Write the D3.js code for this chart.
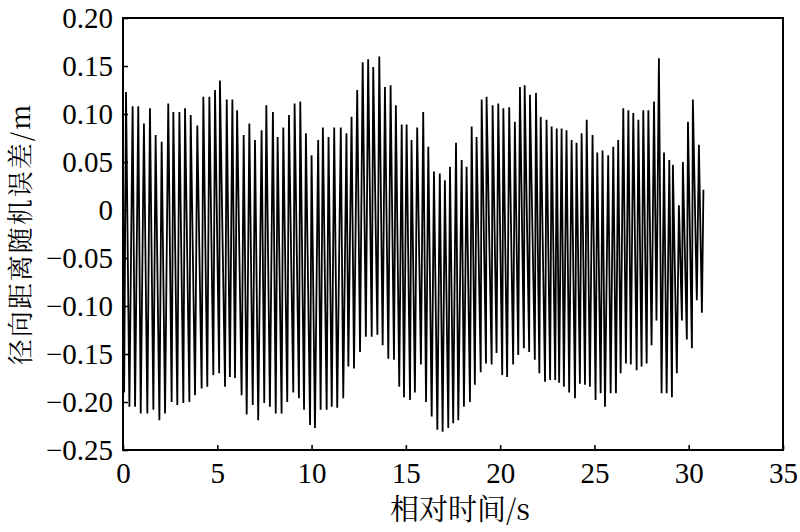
<!DOCTYPE html>
<html><head><meta charset="utf-8">
<script src="https://cdn.jsdelivr.net/npm/d3@7"></script>
<style>body{margin:0;background:#fff}</style>
</head><body><svg id="c" width="800" height="532"></svg>
<script>
const xTicks = [0, 5, 10, 15, 20, 25, 30, 35];
const yTicks = [-0.25, -0.20, -0.15, -0.10, -0.05, 0, 0.05, 0.10, 0.15, 0.20];
const xTitle = "相对时间/s";
const yTitle = "径向距离随机误差/m";

const startTime = [0.0];
const startValue = [0.06];

const peakTimes = [0.16,0.51,0.81,1.11,1.43,1.73,2.05,2.40,2.67,2.99,3.29,3.59,3.94,4.26,4.58,4.88,5.14,5.50,5.80,6.05,6.40,6.70,7.00,7.35,7.60,7.95,8.20,8.50,8.80,9.10,9.40,9.70,10.00,10.35,10.60,10.90,11.20,11.55,11.85,12.12,12.42,12.71,13.00,13.27,13.59,13.89,14.19,14.47,14.78,15.04,15.30,15.60,15.92,16.19,16.49,16.80,17.07,17.34,17.66,17.96,18.22,18.49,18.75,19.02,19.28,19.60,19.90,20.17,20.48,20.78,21.05,21.30,21.58,21.90,22.15,22.46,22.73,23.00,23.26,23.52,23.79,24.05,24.32,24.59,24.90,25.15,25.43,25.73,26.00,26.26,26.53,26.80,27.06,27.33,27.59,27.86,28.16,28.42,28.69,28.97,29.16,29.48,29.69,29.96,30.22,30.54,30.78];
const peakValues = [0.123,0.108,0.108,0.090,0.106,0.078,0.071,0.111,0.102,0.102,0.106,0.099,0.088,0.118,0.118,0.125,0.135,0.115,0.115,0.104,0.078,0.090,0.073,0.083,0.109,0.102,0.076,0.086,0.099,0.111,0.113,0.080,0.057,0.073,0.086,0.076,0.086,0.086,0.080,0.097,0.125,0.154,0.157,0.149,0.160,0.128,0.130,0.109,0.089,0.089,0.073,0.086,0.102,0.066,0.040,0.038,0.031,0.045,0.070,0.052,0.045,0.087,0.076,0.115,0.118,0.109,0.111,0.106,0.107,0.092,0.128,0.130,0.120,0.122,0.097,0.094,0.087,0.085,0.085,0.083,0.073,0.070,0.080,0.094,0.078,0.060,0.062,0.057,0.066,0.073,0.106,0.104,0.101,0.094,0.104,0.104,0.113,0.158,0.060,0.052,0.047,0.005,0.050,0.092,0.115,0.068,0.021];

const troughTimes = [0.06,0.34,0.64,0.94,1.29,1.61,1.93,2.23,2.58,2.88,3.20,3.52,3.82,4.17,4.47,4.79,5.10,5.41,5.67,5.94,6.29,6.56,6.88,7.17,7.49,7.79,8.10,8.41,8.71,9.03,9.33,9.60,9.92,10.18,10.48,10.80,11.07,11.36,11.68,11.95,12.25,12.57,12.88,13.19,13.49,13.77,14.07,14.37,14.65,14.90,15.22,15.48,15.80,16.07,16.37,16.67,16.95,17.25,17.51,17.78,18.08,18.40,18.66,18.97,19.25,19.55,19.81,20.11,20.37,20.69,20.96,21.26,21.54,21.84,22.08,22.38,22.65,22.92,23.13,23.38,23.66,23.97,24.23,24.50,24.76,25.06,25.33,25.56,25.86,26.14,26.39,26.67,26.93,27.24,27.50,27.77,28.03,28.29,28.56,28.83,29.11,29.37,29.64,29.90,30.17,30.43,30.70];
const troughValues = [-0.190,-0.205,-0.205,-0.212,-0.212,-0.208,-0.219,-0.212,-0.200,-0.203,-0.201,-0.200,-0.193,-0.186,-0.184,-0.172,-0.170,-0.184,-0.174,-0.175,-0.193,-0.213,-0.203,-0.219,-0.201,-0.205,-0.212,-0.212,-0.200,-0.190,-0.196,-0.208,-0.224,-0.227,-0.208,-0.208,-0.205,-0.206,-0.196,-0.163,-0.165,-0.148,-0.132,-0.132,-0.130,-0.141,-0.155,-0.156,-0.184,-0.195,-0.198,-0.190,-0.161,-0.200,-0.215,-0.229,-0.231,-0.227,-0.222,-0.219,-0.205,-0.200,-0.182,-0.169,-0.160,-0.161,-0.149,-0.172,-0.174,-0.161,-0.151,-0.144,-0.148,-0.156,-0.170,-0.179,-0.177,-0.177,-0.180,-0.184,-0.190,-0.196,-0.181,-0.182,-0.184,-0.198,-0.191,-0.205,-0.191,-0.191,-0.170,-0.160,-0.161,-0.167,-0.163,-0.160,-0.141,-0.115,-0.191,-0.191,-0.195,-0.170,-0.115,-0.135,-0.144,-0.094,-0.107];

const numFont = "serif";
const titleFont = "'Noto Serif CJK SC', serif";
const svg = d3.select("#c");
const x = d3.scaleLinear().domain([0, 35]).range([123, 783]);
const y = d3.scaleLinear().domain([-0.25, 0.20]).range([450, 18]);

const pts = [];
startTime.forEach((t, i) => pts.push({t, v: startValue[i]}));
peakTimes.forEach((t, i) => pts.push({t, v: peakValues[i]}));
troughTimes.forEach((t, i) => pts.push({t, v: troughValues[i]}));
pts.sort((a, b) => a.t - b.t);

svg.append("path")
  .datum(pts)
  .attr("fill", "none")
  .attr("stroke", "#000")
  .attr("stroke-width", 1.8)
  .attr("stroke-linejoin", "miter")
  .attr("d", d3.line().x(d => x(d.t)).y(d => y(d.v)));

const fmtY = v => v === 0 ? "0" : d3.format(".2f")(v).replace("-", "\u2212");

const xAxis = svg.append("g").attr("transform", "translate(0,450)")
  .call(d3.axisBottom(x).tickValues(xTicks).tickSizeInner(-5).tickSizeOuter(0).tickPadding(12).tickFormat(d => String(d)));
const yAxis = svg.append("g").attr("transform", "translate(123,0)")
  .call(d3.axisLeft(y).tickValues(yTicks).tickSizeInner(-5).tickSizeOuter(0).tickPadding(10).tickFormat(fmtY));

[xAxis, yAxis].forEach(g => {
  g.attr("font-family", numFont).attr("font-size", 29);
  g.select(".domain").remove();
  g.selectAll(".tick line").attr("stroke", "#000").attr("stroke-width", 1.6);
  g.selectAll(".tick text").attr("fill", "#000")
    .attr("font-family", numFont)
    .attr("font-size", 29);
});

svg.append("rect")
  .attr("x", x(0)).attr("y", y(0.20))
  .attr("width", x(35) - x(0)).attr("height", y(-0.25) - y(0.20))
  .attr("fill", "none").attr("stroke", "#000").attr("stroke-width", 2);

svg.append("text")
  .attr("x", 460).attr("y", 520)
  .attr("text-anchor", "middle")
  .attr("font-family", titleFont)
  .attr("font-size", 29)
  .text(xTitle);

svg.append("text")
  .attr("transform", "translate(30,234) rotate(-90)")
  .attr("text-anchor", "middle")
  .attr("font-family", titleFont)
  .attr("font-size", 26)
  .attr("letter-spacing", 2)
  .text(yTitle);
</script>
</body></html>
